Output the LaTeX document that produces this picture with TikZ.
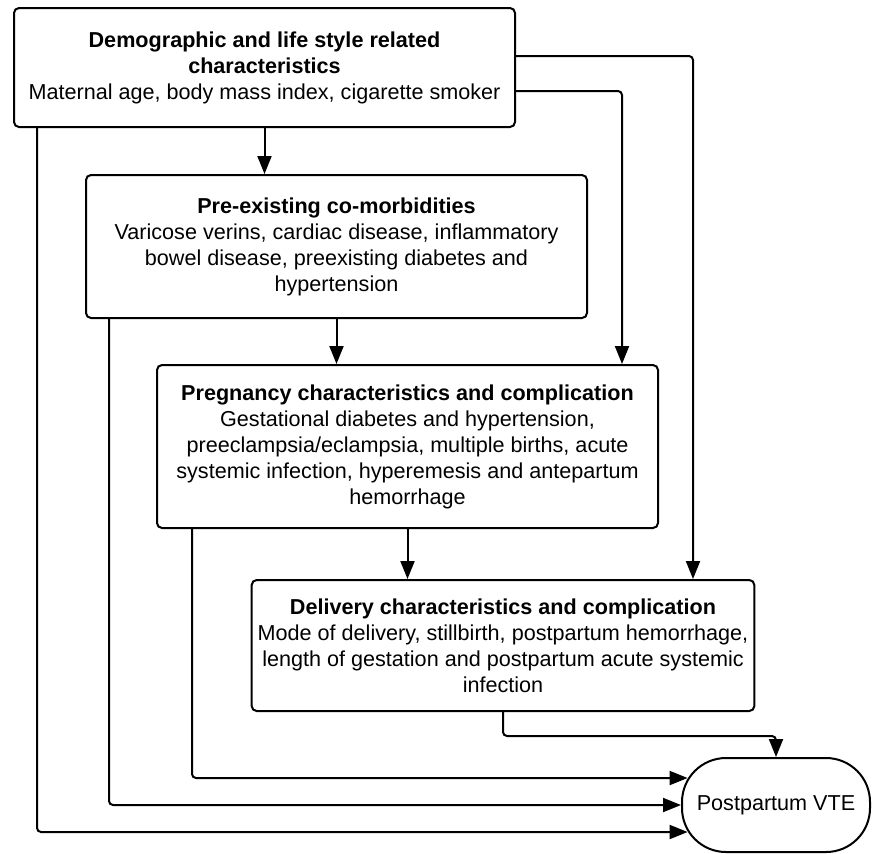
\documentclass[tikz,border=0pt]{standalone}
\usepackage{fontspec}
\setmainfont{Liberation Sans}
\usetikzlibrary{arrows.meta}

\begin{document}
\begin{tikzpicture}[x=0.5pt, y=-0.5pt,
    factor/.style={rectangle, draw, line width=1pt, rounded corners=2.5pt, align=center, minimum width=250.5pt, inner sep=3pt, font=\fontsize{10.8}{13}\selectfont},
    outcome/.style={rectangle, draw, line width=1pt, rounded corners=22pt, minimum width=94pt, minimum height=47pt, font=\fontsize{10.8}{13}\selectfont},
    arrow/.style={-{Triangle[length=9pt, width=7pt]}, line width=1pt, rounded corners=2pt}]

    \useasboundingbox (0,0) rectangle (876,853);

    \node[factor, minimum height=59.5pt] (demo) at (264.5,67.5) {\textbf{Demographic and life style related}\\\textbf{characteristics}\\Maternal age, body mass index, cigarette smoker};
    \node[factor, minimum height=71.5pt] (comorb) at (336.5,246.5) {\textbf{Pre-existing co-morbidities}\\Varicose verins, cardiac disease, inflammatory\\bowel disease, preexisting diabetes and\\hypertension};
    \node[factor, minimum height=81.5pt] (preg) at (407.5,446.5) {\textbf{Pregnancy characteristics and complication}\\Gestational diabetes and hypertension,\\preeclampsia/eclampsia, multiple births, acute\\systemic infection, hyperemesis and antepartum\\hemorrhage};
    \node[factor, minimum height=65.5pt] (deliv) at (503,645.5) {\textbf{Delivery characteristics and complication}\\Mode of delivery, stillbirth, postpartum hemorrhage,\\length of gestation and postpartum acute systemic\\infection};
    \node[outcome] (vte) at (776,805) {Postpartum VTE};

    \coordinate (r3) at (622,0);
    \coordinate (r4) at (693,0);
    \coordinate (in1) at ([shift={(3.3pt,13.5pt)}]vte.west);
    \coordinate (in2) at (vte.west);
    \coordinate (in3) at ([shift={(3.3pt,-13.5pt)}]vte.west);

    \draw[arrow] (demo.south) -- (demo.south |- comorb.north);
    \draw[arrow] (comorb.south) -- (comorb.south |- preg.north);
    \draw[arrow] (preg.south) -- (preg.south |- deliv.north);
    \draw[arrow] (deliv.south) -- ++(0,-12pt) -| (vte.north);
    \draw[arrow] ([yshift=5.75pt]demo.east) -| (r4 |- deliv.north);
    \draw[arrow] ([yshift=-11.75pt]demo.east) -| (r3 |- preg.north);
    \draw[arrow] ([xshift=18pt]preg.south west) |- (in1);
    \draw[arrow] ([xshift=12pt]comorb.south west) |- (in2);
    \draw[arrow] ([xshift=12pt]demo.south west) |- (in3);
\end{tikzpicture}
\end{document}
